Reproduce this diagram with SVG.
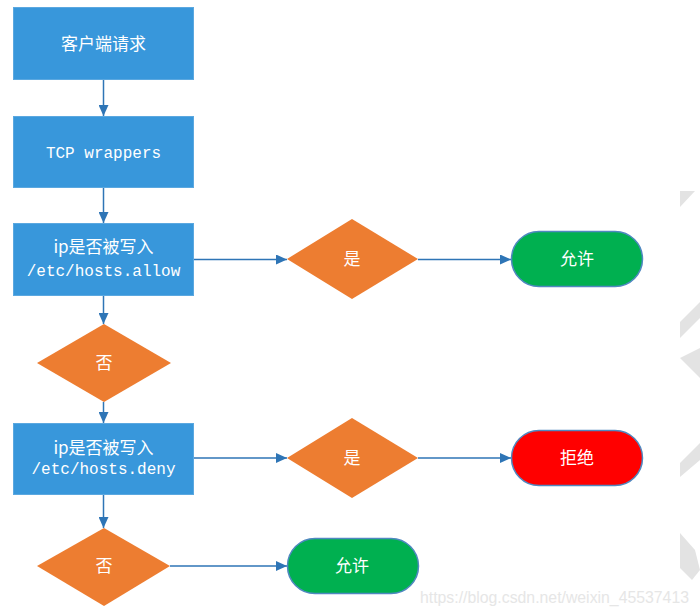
<svg xmlns="http://www.w3.org/2000/svg" width="700" height="616" viewBox="0 0 700 616">
<style>
.box{fill:#3897DB;stroke:#5BA8E0;stroke-width:1}
.dia{fill:#ED7D31}
.term{stroke:#4F88C0;stroke-width:1.5}
.cn{font-family:"Noto Sans CJK SC","Noto Sans",sans-serif;font-size:17px;fill:#fff;text-anchor:middle}
.mono{font-family:"Liberation Mono","DejaVu Sans Mono",monospace;font-size:16px;fill:#fff;text-anchor:middle}
.con{stroke:#2E75B6;stroke-width:1.5;fill:none;marker-end:url(#ah)}
.wm{fill:#E3E3E3}
</style>
<defs>
<marker id="ah" markerUnits="userSpaceOnUse" markerWidth="12" markerHeight="10" refX="11" refY="5" orient="auto">
<path d="M0,0 L11,5 L0,10 Z" fill="#2E75B6"/>
</marker>
</defs>
<rect width="700" height="616" fill="#fff"/>
<g id="watermark-shapes">
<polygon class="wm" points="680,191 695,191 680,207"/>
<polygon class="wm" points="680,322 700,302 700,318 680,338"/>
<polygon class="wm" points="680,358 700,348 700,378"/>
<polygon class="wm" points="680,463 700,443 700,460 680,477"/>
<polygon class="wm" points="680,533 695,550 700,570 692,580 680,568"/>
</g>
<g id="connectors">
<line class="con" x1="103.5" y1="80" x2="103.5" y2="116"/>
<line class="con" x1="103.5" y1="188" x2="103.5" y2="223"/>
<line class="con" x1="194" y1="259.5" x2="287" y2="259.5"/>
<line class="con" x1="418" y1="259.5" x2="511" y2="259.5"/>
<line class="con" x1="103.5" y1="296" x2="103.5" y2="324"/>
<line class="con" x1="103.5" y1="402" x2="103.5" y2="423"/>
<line class="con" x1="194" y1="458" x2="287" y2="458"/>
<line class="con" x1="418" y1="458" x2="511" y2="458"/>
<line class="con" x1="103.5" y1="495" x2="103.5" y2="528"/>
<line class="con" x1="170" y1="566" x2="287" y2="566"/>
</g>
<g id="n1">
<rect class="box" x="13.5" y="7.5" width="180" height="72"/>
<text class="cn" x="103.5" y="50">客户端请求</text>
</g>
<g id="n2">
<rect class="box" x="13.5" y="116.5" width="180" height="71"/>
<text class="mono" x="103.5" y="158">TCP wrappers</text>
</g>
<g id="n3">
<rect class="box" x="13.5" y="223.5" width="180" height="72"/>
<text class="cn" x="103.5" y="253">ip是否被写入</text>
<text class="mono" x="103.5" y="276">/etc/hosts.allow</text>
</g>
<g id="d1">
<polygon class="dia" points="352,219 418,259 352,299 287,259"/>
<text class="cn" x="352" y="265">是</text>
</g>
<g id="t1">
<rect class="term" x="511.5" y="231.5" width="131" height="55" rx="27.5" fill="#00B050"/>
<text class="cn" x="577" y="265">允许</text>
</g>
<g id="d2">
<polygon class="dia" points="104,324 171,363 104,402 37,363"/>
<text class="cn" x="104" y="369">否</text>
</g>
<g id="n4">
<rect class="box" x="13.5" y="423.5" width="180" height="71"/>
<text class="cn" x="103.5" y="454">ip是否被写入</text>
<text class="mono" x="103.5" y="474">/etc/hosts.deny</text>
</g>
<g id="d3">
<polygon class="dia" points="352,418 418,458 352,498 287,458"/>
<text class="cn" x="352" y="464">是</text>
</g>
<g id="t2">
<rect class="term" x="511.5" y="430.5" width="131" height="55" rx="27.5" fill="#FF0000"/>
<text class="cn" x="577" y="464">拒绝</text>
</g>
<g id="d4">
<polygon class="dia" points="104,528 170,566 104,606 37,566"/>
<text class="cn" x="104" y="572">否</text>
</g>
<g id="t3">
<rect class="term" x="287.5" y="538.5" width="131" height="55" rx="27.5" fill="#00B050"/>
<text class="cn" x="352" y="572">允许</text>
</g>
<text x="420" y="603" font-family="Liberation Sans,Arial,sans-serif" font-size="16" fill="#E6E6E6" textLength="269" lengthAdjust="spacingAndGlyphs">https://blog.csdn.net/weixin_45537413</text>
</svg>
